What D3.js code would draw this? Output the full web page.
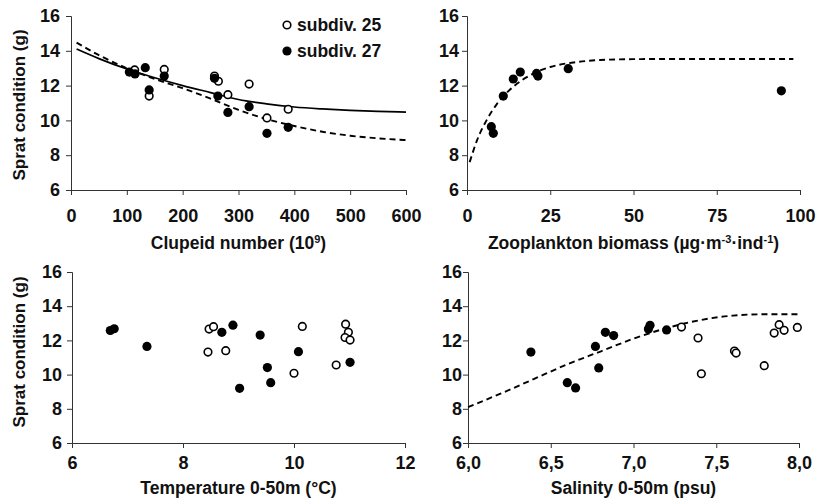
<!DOCTYPE html>
<html><head><meta charset="utf-8">
<script src="https://cdn.jsdelivr.net/npm/d3@7"></script>
<style>
body{margin:0;background:#fff;}
text{font-family:"Liberation Sans",Arial,sans-serif;font-weight:bold;fill:#111;}
</style></head>
<body><svg id="c" width="816" height="504"></svg>
<script>
// ---------- DATA ----------
// Panel A: Clupeid number (10^9)
const clupeidOpenX   = [114, 140, 167, 257, 264, 281, 319, 351, 389];
const clupeidOpenY   = [12.9, 11.4, 12.93, 12.55, 12.25, 11.48, 12.09, 10.14, 10.64];
const clupeidFilledX = [104.5, 114.6, 133, 140, 167, 257, 263, 281, 319, 351, 389];
const clupeidFilledY = [12.78, 12.67, 13.03, 11.75, 12.55, 12.42, 11.4, 10.46, 10.79, 9.26, 9.6];
const clupeidFitX      = [10, 50, 100, 150, 200, 250, 300, 350, 400, 450, 500, 550, 600];
const clupeidFitSolid  = [14.1, 13.55, 12.95, 12.45, 12.0, 11.6, 11.2, 10.95, 10.77, 10.66, 10.58, 10.52, 10.48];
const clupeidFitDashed = [14.47, 13.75, 13.0, 12.38, 11.85, 11.25, 10.6, 10.08, 9.68, 9.35, 9.12, 8.97, 8.87];
const clupeidTicks = [0, 100, 200, 300, 400, 500, 600];

// Panel B: Zooplankton biomass
const zooFilledX = [7.3, 7.9, 10.9, 13.9, 16.0, 20.9, 21.3, 30.4, 94.4];
const zooFilledY = [9.64, 9.26, 11.4, 12.38, 12.78, 12.7, 12.55, 12.97, 11.7];
const zooFitX = [0.8, 3, 6, 9, 14, 19, 25, 32, 40, 50, 60, 98];
const zooFitY = [7.6, 8.85, 10.05, 10.95, 11.95, 12.6, 13.07, 13.33, 13.47, 13.52, 13.53, 13.53];
const zooTicks = [0, 25, 50, 75, 100];

// Panel C: Temperature 0-50m
const tempOpenX   = [8.47, 8.55, 8.45, 8.77, 10.0, 10.15, 10.93, 10.98, 10.92, 11.01, 10.76];
const tempOpenY   = [12.66, 12.8, 11.32, 11.4, 10.08, 12.82, 12.95, 12.47, 12.17, 12.02, 10.56];
const tempFilledX = [6.69, 6.76, 7.35, 8.70, 8.90, 9.39, 10.08, 9.52, 9.02, 9.58, 11.01];
const tempFilledY = [12.58, 12.68, 11.65, 12.47, 12.89, 12.31, 11.34, 10.41, 9.2, 9.53, 10.72];
const tempTicks = [6, 8, 10, 12];

// Panel D: Salinity 0-50m
const salOpenX   = [7.29, 7.39, 7.41, 7.61, 7.62, 7.79, 7.85, 7.88, 7.91, 7.99];
const salOpenY   = [12.78, 12.14, 10.05, 11.38, 11.26, 10.52, 12.43, 12.92, 12.59, 12.76];
const salFilledX = [6.38, 6.60, 6.65, 6.77, 6.79, 6.83, 6.88, 7.09, 7.10, 7.20];
const salFilledY = [11.32, 9.53, 9.22, 11.65, 10.39, 12.47, 12.28, 12.67, 12.88, 12.61];
const salFitX = [6.0, 6.2, 6.4, 6.6, 6.8, 7.0, 7.2, 7.4, 7.6, 7.8, 8.0];
const salFitY = [8.1, 8.9, 9.75, 10.6, 11.35, 12.1, 12.72, 13.18, 13.45, 13.53, 13.53];
const salTicks = [6.0, 6.5, 7.0, 7.5, 8.0];

// Shared
const conditionTicks = [6, 8, 10, 12, 14, 16];
const legendLabels = ["subdiv. 25", "subdiv. 27"];

// ---------- DRAW ----------
const svg = d3.select("#c");
const FS = 18;      // tick labels
const TFS = 17.5;   // titles

function panel(o) {
  const x = d3.scaleLinear().domain(o.xDomain).range([o.x0, o.x1]);
  const y = d3.scaleLinear().domain([6, 16]).range([o.y1, o.y0]);
  const g = svg.append("g");

  const ax = g.append("g").attr("transform", `translate(0,${o.y1})`)
    .call(d3.axisBottom(x).tickValues(o.xTicks).tickSize(5).tickFormat(o.fmt));
  ax.selectAll("text").attr("font-size", FS).attr("dy", null).attr("y", o.xLabY);

  const ay = g.append("g").attr("transform", `translate(${o.x0},0)`)
    .call(d3.axisLeft(y).tickValues(conditionTicks).tickSize(5));
  ay.selectAll("text").attr("font-size", FS).attr("x", -o.yLabGap);
  g.selectAll(".tick text").attr("fill", "#111")
    .style("font-family", '"Liberation Sans",Arial,sans-serif').style("font-weight", "bold");
  g.selectAll(".domain,.tick line").attr("stroke", "#333").attr("stroke-width", 1);

  const line = d3.line().x(d => x(d[0])).y(d => y(d[1])).curve(d3.curveMonotoneX);
  (o.curves || []).forEach(c => {
    g.append("path").datum(d3.zip(c.x, c.y)).attr("d", line)
      .attr("fill", "none").attr("stroke", "#000").attr("stroke-width", c.dashed ? 1.9 : 1.7)
      .attr("stroke-dasharray", c.dashed ? "6,4" : null);
  });

  if (o.openX) {
    g.selectAll(null).data(d3.zip(o.openX, o.openY)).join("circle")
      .attr("cx", d => x(d[0])).attr("cy", d => y(d[1])).attr("r", 3.8)
      .attr("fill", "#fff").attr("stroke", "#000").attr("stroke-width", 1.6);
  }
  if (o.filledX) {
    g.selectAll(null).data(d3.zip(o.filledX, o.filledY)).join("circle")
      .attr("cx", d => x(d[0])).attr("cy", d => y(d[1])).attr("r", 4.6)
      .attr("fill", "#000");
  }

  const t = g.append("text").attr("x", (o.x0 + o.x1) / 2).attr("y", o.titleY)
    .attr("text-anchor", "middle").attr("font-size", TFS);
  o.title.forEach(p => {
    const ts = t.append("tspan").text(p.t);
    if (p.sup) ts.attr("baseline-shift", "super").attr("font-size", 11);
  });

  if (o.yTitle) {
    g.append("text").attr("transform", `translate(${o.yTitleX},${o.yTitleY}) rotate(-90)`)
      .attr("text-anchor", "middle").attr("font-size", 17).text("Sprat condition (g)");
  }
}

panel({x0: 71, x1: 406, y0: 16, y1: 190, xDomain: [0, 600], xTicks: clupeidTicks,
  fmt: d3.format("d"), xLabY: 32, yLabGap: 11, titleY: 249,
  title: [{t: "Clupeid number (10"}, {t: "9", sup: true}, {t: ")"}],
  yTitle: true, yTitleX: 25, yTitleY: 105,
  openX: clupeidOpenX, openY: clupeidOpenY, filledX: clupeidFilledX, filledY: clupeidFilledY,
  curves: [{x: clupeidFitX, y: clupeidFitSolid, dashed: false}, {x: clupeidFitX, y: clupeidFitDashed, dashed: true}]});

panel({x0: 467, x1: 800, y0: 16, y1: 190, xDomain: [0, 100], xTicks: zooTicks,
  fmt: d3.format("d"), xLabY: 32, yLabGap: 8, titleY: 249,
  title: [{t: "Zooplankton biomass (\u00b5g\u00b7m"}, {t: "-3", sup: true}, {t: "\u00b7ind"}, {t: "-1", sup: true}, {t: ")"}],
  filledX: zooFilledX, filledY: zooFilledY,
  curves: [{x: zooFitX, y: zooFitY, dashed: true}]});

panel({x0: 72, x1: 405, y0: 272, y1: 443, xDomain: [6, 12], xTicks: tempTicks,
  fmt: d3.format("d"), xLabY: 26, yLabGap: 10, titleY: 494,
  title: [{t: "Temperature 0-50m (\u00b0C)"}],
  yTitle: true, yTitleX: 25, yTitleY: 352,
  openX: tempOpenX, openY: tempOpenY, filledX: tempFilledX, filledY: tempFilledY});

panel({x0: 468, x1: 799, y0: 272, y1: 443, xDomain: [6, 8], xTicks: salTicks,
  fmt: d => d3.format(".1f")(d).replace(".", ","), xLabY: 26, yLabGap: 6, titleY: 494,
  title: [{t: "Salinity 0-50m (psu)"}],
  openX: salOpenX, openY: salOpenY, filledX: salFilledX, filledY: salFilledY,
  curves: [{x: salFitX, y: salFitY, dashed: true}]});

// legend (top-left panel)
const lg = svg.append("g");
lg.append("circle").attr("cx", 287).attr("cy", 25).attr("r", 3.8)
  .attr("fill", "#fff").attr("stroke", "#000").attr("stroke-width", 1.6);
lg.append("circle").attr("cx", 287).attr("cy", 51).attr("r", 4.6).attr("fill", "#000");
lg.append("text").attr("x", 297).attr("y", 31).attr("font-size", TFS).text(legendLabels[0]);
lg.append("text").attr("x", 297).attr("y", 57).attr("font-size", TFS).text(legendLabels[1]);
</script></body></html>
